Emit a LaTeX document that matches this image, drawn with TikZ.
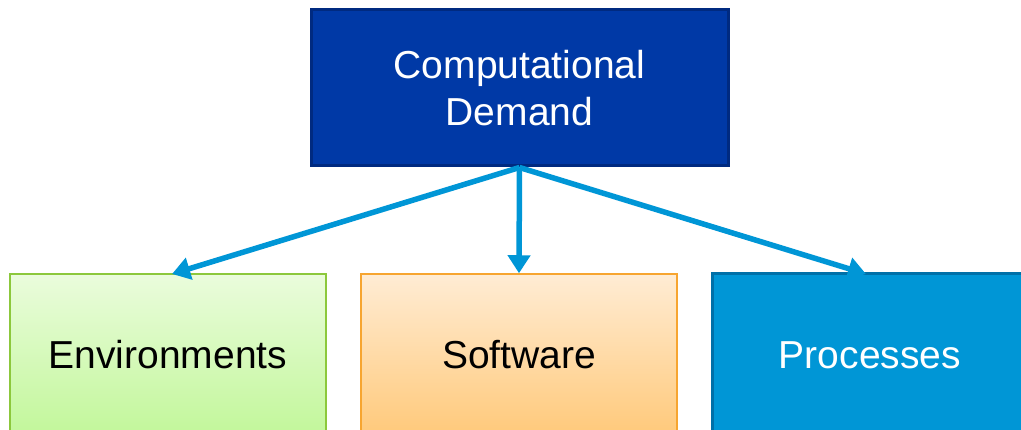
\documentclass[tikz,border=0pt]{standalone}
\usepackage{fontspec}
\setmainfont{Liberation Sans}
\usetikzlibrary{arrows.meta}
\definecolor{navyfill}{HTML}{0039A6}
\definecolor{navyline}{HTML}{002A80}
\definecolor{arrowblue}{HTML}{0096D6}
\definecolor{procline}{HTML}{0070A8}
\definecolor{greentop}{HTML}{EAFCDC}
\definecolor{greenbot}{HTML}{C2F79A}
\definecolor{greenline}{HTML}{8CC83C}
\definecolor{orangetop}{HTML}{FFECD4}
\definecolor{orangebot}{HTML}{FFC97A}
\definecolor{orangeline}{HTML}{F7A530}
\tikzset{
  x=1pt,y=1pt,
  boxbase/.style={rectangle, inner sep=0pt, align=center,
    font=\fontsize{39}{47}\selectfont},
  topbox/.style={boxbase, draw=navyline, line width=3pt, fill=navyfill, text=white,
    minimum width=417pt, minimum height=156pt},
  lowbox/.style={boxbase, minimum width=316pt, minimum height=162pt},
  conn/.style={draw=arrowblue, line width=5.5pt, -{Triangle[length=18pt,width=22pt]}}
}
\begin{document}
\begin{tikzpicture}
\useasboundingbox (0,0) rectangle (1021,430);
\clip (0,0) rectangle (1021,430);
\node[topbox] (cd) at (519.5,342) {Computational\\Demand};
\node[lowbox, draw=greenline, line width=1.5pt, top color=greentop, bottom color=greenbot] (env) at (168,75) {Environments};
\node[lowbox, draw=orangeline, line width=1.5pt, top color=orangetop, bottom color=orangebot] (sw) at (519,75) {Software};
\node[lowbox, draw=procline, line width=3pt, fill=arrowblue, text=white] (proc) at (870,75) {Processes};
\coordinate (envin) at (172,156);
\coordinate (procin) at (866,156);
\draw[conn] (cd.south) -- (envin);
\draw[conn] (cd.south) -- (sw.north);
\draw[conn] (cd.south) -- (procin);
\end{tikzpicture}
\end{document}
